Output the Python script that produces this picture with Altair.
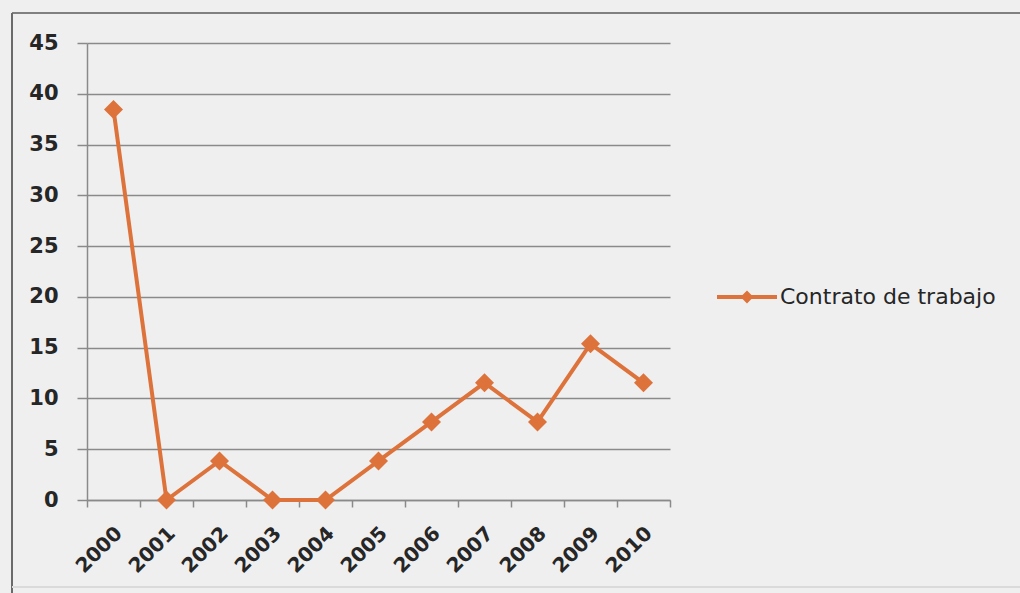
import altair as alt
import pandas as pd

years = ["2000", "2001", "2002", "2003", "2004", "2005", "2006", "2007", "2008", "2009", "2010"]
values = [38.46, 0, 3.85, 0, 0, 3.85, 7.69, 11.54, 7.69, 15.38, 11.54]
series_name = "Contrato de trabajo"
y_ticks = [0, 5, 10, 15, 20, 25, 30, 35, 40, 45]

ORANGE = "#DD733A"
GRID = "#8A8A8A"
TEXT = "#262626"
FONT = "DejaVu Sans"

df = pd.DataFrame({"year": years, "value": values, "serie": [series_name] * len(years)})

x_enc = alt.X(
    "year:O",
    bandPosition=0.5,
    scale=alt.Scale(type="band", paddingInner=0, paddingOuter=0),
    axis=alt.Axis(
        title=None, labelAngle=-45, labelAlign="right", labelBaseline="middle",
        labelPadding=23, labelOffset=5, tickBand="extent", tickSize=7,
        tickColor=GRID, tickWidth=1.5, domainColor=GRID, domainWidth=1.5,
        labelFont=FONT, labelFontSize=20, labelFontWeight="bold", labelColor=TEXT,
        grid=False,
    ),
)
y_enc = alt.Y(
    "value:Q",
    scale=alt.Scale(domain=[0, 45], nice=False, zero=True),
    axis=alt.Axis(
        title=None, values=y_ticks, grid=True, gridColor=GRID, gridWidth=1.5,
        tickSize=10, tickColor=GRID, tickWidth=1.5, domainColor=GRID, domainWidth=1.5,
        labelPadding=19, labelFont=FONT, labelFontSize=21, labelFontWeight="bold",
        labelColor=TEXT,
    ),
)

legend_symbol = "M-1,0L1,0M-0.12,0L0,-0.12L0.12,0L0,0.12Z"

line = alt.Chart(df).mark_line(strokeWidth=4).encode(
    x=x_enc,
    y=y_enc,
    color=alt.Color(
        "serie:N",
        scale=alt.Scale(range=[ORANGE]),
        legend=alt.Legend(
            title=None, orient="none", legendX=628, legendY=222, padding=0,
            symbolType=legend_symbol, symbolSize=3600, symbolStrokeWidth=4,
            symbolFillColor=ORANGE, symbolStrokeColor=ORANGE, labelOffset=1,
            labelFont=FONT, labelFontSize=22, labelColor=TEXT, labelLimit=400,
        ),
    ),
)

points = alt.Chart(df).mark_point(
    shape="diamond", filled=True, size=360, color=ORANGE, opacity=1
).encode(x=x_enc, y=y_enc)

frame_top = alt.Chart(df).mark_rule(color="#808080", strokeWidth=2).encode(
    x=alt.value(-75), x2=alt.value(1000), y=alt.value(-30)
)
frame_left = alt.Chart(df).mark_rule(color="#6a6a6a", strokeWidth=2).encode(
    x=alt.value(-75), y=alt.value(-30), y2=alt.value(560)
)
frame_bottom = alt.Chart(df).mark_rule(color="#DADADA", strokeWidth=2).encode(
    x=alt.value(-75), x2=alt.value(1000), y=alt.value(544)
)

chart = (
    alt.layer(frame_top, frame_left, frame_bottom, line, points)
    .properties(
        width=583, height=457,
        padding={"left": 87, "top": 43, "right": 350, "bottom": 93},
        autosize="none", background="#EFEFF0",
    )
    .configure_view(stroke=None)
)

chart.save("out.html", embed_options={"renderer": "svg", "actions": False})
